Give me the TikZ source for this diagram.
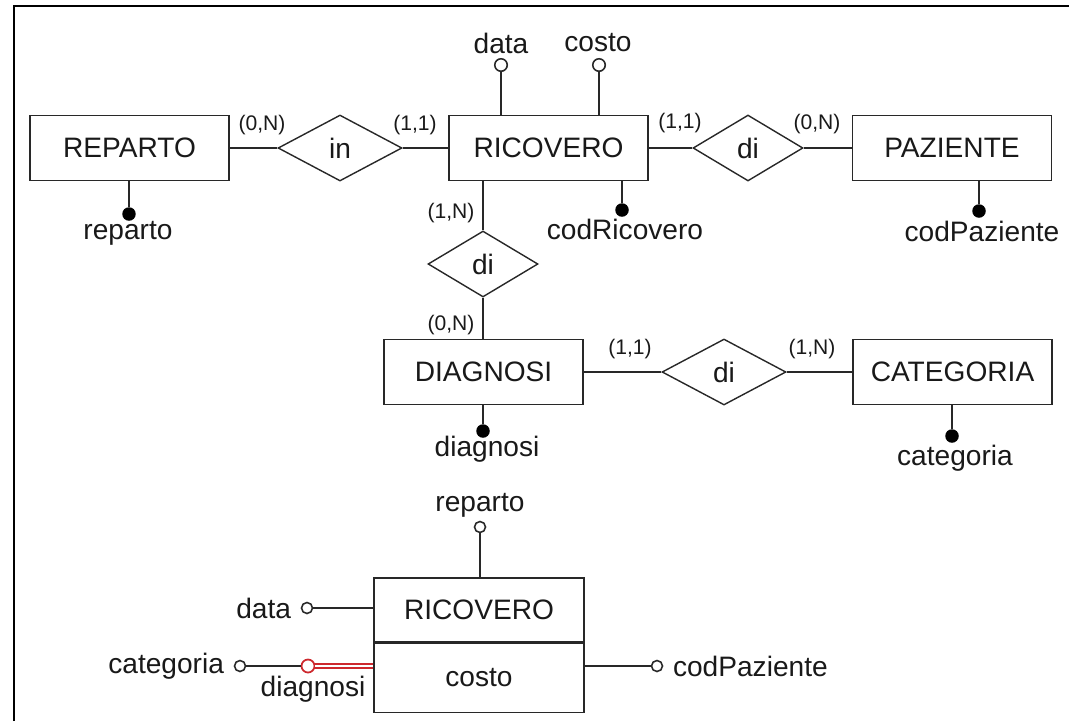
\documentclass[tikz,border=0pt]{standalone}
\usepackage{fontspec}
\setmainfont{Liberation Sans}
\usepackage{tikz}
\usetikzlibrary{positioning,shapes.geometric}
\definecolor{erline}{RGB}{40,40,40}
\definecolor{keyred}{RGB}{205,40,45}
\newcommand{\erfont}{\fontsize{16}{19}\selectfont}
\newcommand{\cardfont}{\fontsize{12}{14}\selectfont}

\begin{document}
\begin{tikzpicture}[x=0.02cm,y=-0.02cm,
ent/.style={draw=erline,line width=0.8pt,minimum width=3.98cm,minimum height=1.3cm,
inner sep=0pt,font=\erfont,text=black!90},
rel/.style={diamond,draw=erline,line width=0.8pt,inner sep=0pt,minimum height=1.32cm,
font=\erfont,text=black!90},
lnk/.style={erline,line width=1.1pt},
card/.style={font=\cardfont,text=black!90},
lbl/.style={font=\erfont,text=black!90},
key/.style={circle,fill=black,inner sep=0pt,minimum size=0.27cm},
att/.style={circle,draw=erline,fill=white,line width=0.9pt,inner sep=0pt,minimum size=0.25cm}
]
\useasboundingbox (0,0) rectangle (1069,721);
\draw[line width=1.7pt] (14,721) -- (14,6) -- (1069,6);

\node[ent] (reparto) at (129.5,148) {REPARTO};
\node[ent] (ricovero) at (548.5,148) {RICOVERO};
\node[ent] (paziente) at (952,148) {PAZIENTE};
\node[ent] (diagnosi) at (483.5,372) {DIAGNOSI};
\node[ent] (categoria) at (952.5,372) {CATEGORIA};
\node[rel,minimum width=2.48cm] (in) at (340,148) {in};
\node[rel,minimum width=2.2cm] (diPaz) at (748,148) {di};
\node[rel,minimum width=2.2cm] (diDiag) at (483,264) {di};
\node[rel,minimum width=2.48cm] (diCat) at (724,372) {di};

\draw[lnk] (reparto) -- (in) -- (ricovero);
\draw[lnk] (ricovero) -- (diPaz) -- (paziente);
\draw[lnk] (diDiag.north |- ricovero.south) -- (diDiag.north);
\draw[lnk] (diDiag.south) -- (diDiag.south |- diagnosi.north);
\draw[lnk] (diagnosi) -- (diCat) -- (categoria);

\node[card] (cRepIn) at (262,125) {(0,N)};
\node[card] (cInRic) at (415,125) {(1,1)};
\node[card] (cRicPaz) at (680,123) {(1,1)};
\node[card] (cPazDi) at (817,124) {(0,N)};
\node[card] (cRicDiag) at (451,213) {(1,N)};
\node[card] (cDiagRic) at (451,325) {(0,N)};
\node[card] (cDiagCat) at (630,349) {(1,1)};
\node[card] (cCatDiag) at (812,349) {(1,N)};

\node[key] (kReparto) at (129,214) {};
\node[lbl] at (128,233) {reparto};
\draw[lnk] (kReparto |- reparto.south) -- (kReparto);
\node[att] (aData) at (501,65) {};
\node[lbl] at (501,43) {data};
\draw[lnk] (aData) -- (aData |- ricovero.north);
\node[att] (aCosto) at (599,65) {};
\node[lbl] at (598,43) {costo};
\draw[lnk] (aCosto) -- (aCosto |- ricovero.north);
\node[key] (kRicovero) at (622,210) {};
\node[lbl] at (625,229) {codRicovero};
\draw[lnk] (kRicovero |- ricovero.south) -- (kRicovero);
\node[key] (kPaziente) at (979,211) {};
\node[lbl] at (982,231) {codPaziente};
\draw[lnk] (kPaziente |- paziente.south) -- (kPaziente);
\node[key] (kDiagnosi) at (483,431) {};
\node[lbl] at (487,449) {diagnosi};
\draw[lnk] (kDiagnosi |- diagnosi.south) -- (kDiagnosi);
\node[key] (kCategoria) at (952,436) {};
\node[lbl] at (955,458) {categoria};
\draw[lnk] (kCategoria |- categoria.south) -- (kCategoria);

\node[ent,minimum width=4.2cm,minimum height=1.28cm] (ricSchema) at (479,610) {RICOVERO};
\node[ent,minimum width=4.2cm,minimum height=1.38cm,below=0pt of ricSchema] (costoSchema) {costo};
\node[att,minimum size=0.22cm] (bReparto) at (480,527) {};
\node[lbl] at (480,505) {reparto};
\draw[lnk] (bReparto) -- (bReparto |- ricSchema.north);
\node[att,minimum size=0.22cm] (bData) at (307,608) {};
\node[lbl,left=2pt of bData] {data};
\draw[lnk] (bData) -- (bData -| ricSchema.west);
\node[att,minimum size=0.22cm] (bCat) at (240,666) {};
\node[lbl,left=2pt of bCat] {categoria};
\node[circle,draw=keyred,fill=white,line width=1pt,minimum size=0.26cm,inner sep=0pt] (bDiag) at (308,666) {};
\node[lbl] at (313,689) {diagnosi};
\draw[lnk] (bCat) -- (bDiag);
\draw[keyred,double=white,double distance=1.6pt,line width=0.8pt] (bDiag) -- (bDiag -| costoSchema.west);
\node[att,minimum size=0.22cm] (bPaz) at (657,666) {};
\node[lbl,right=2pt of bPaz] {codPaziente};
\draw[lnk] (bPaz -| costoSchema.east) -- (bPaz);
\end{tikzpicture}
\end{document}
